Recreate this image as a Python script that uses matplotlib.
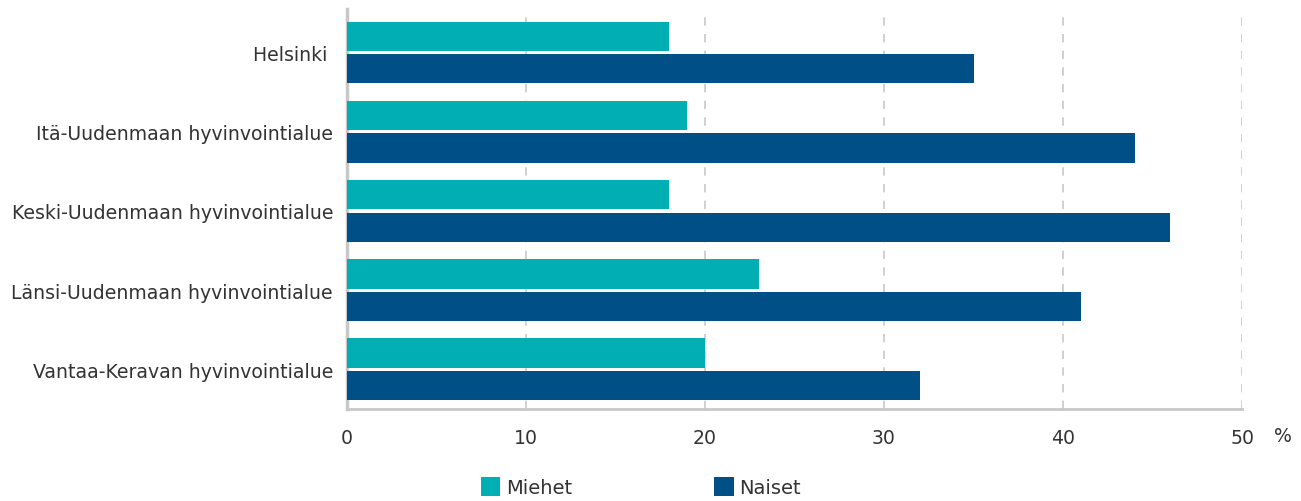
import numpy as np
import matplotlib
matplotlib.use('Agg')
import matplotlib.pyplot as plt

plt.rcParams['font.family'] = ['DejaVu Sans']

alueet = ['Helsinki ', 'Itä-Uudenmaan hyvinvointialue', 'Keski-Uudenmaan hyvinvointialue',
          'Länsi-Uudenmaan hyvinvointialue', 'Vantaa-Keravan hyvinvointialue']
miehet = [18, 19, 18, 23, 20]
naiset = [35, 44, 46, 41, 32]
x_ticks = [0, 10, 20, 30, 40, 50]

c_miehet = '#00AEB3'
c_naiset = '#004F87'
txt = '#333333'

fig = plt.figure(figsize=(13.01, 5.02), dpi=100)
ax = fig.add_axes([0.2667, 0.1833, 0.688, 0.797])

y = np.arange(len(alueet))
h = 0.37
ax.barh(y - h / 2 - 0.02, miehet, height=h, color=c_miehet, label='Miehet', zorder=3)
ax.barh(y + h / 2 + 0.02, naiset, height=h, color=c_naiset, label='Naiset', zorder=3)

ax.set_xlim(0, 50)
ax.set_ylim(4.5, -0.55)
ax.set_yticks(y)
ax.set_yticklabels(alueet, fontsize=13.6, color=txt)
ax.set_xticks(x_ticks)
ax.set_xticklabels([str(t) for t in x_ticks], fontsize=13.6, color=txt)
ax.tick_params(axis='x', length=0, pad=14)
ax.tick_params(axis='y', length=0, pad=10)

ax.grid(axis='x', color='#c8c8c8', linestyle=(0, (5, 5)), linewidth=1.2, zorder=0)
for s in ['top', 'right']:
    ax.spines[s].set_visible(False)
ax.spines['left'].set_color('#c8c8c8')
ax.spines['left'].set_linewidth(2.5)
ax.spines['bottom'].set_color('#c8c8c8')
ax.spines['bottom'].set_linewidth(2)

ax.text(1.046, -0.067, '%', transform=ax.transAxes, fontsize=13.6, color=txt,
        ha='center', va='center')

ax.legend(loc='center left', bbox_to_anchor=(0.130, -0.195), ncol=2, frameon=False,
          fontsize=14, handlelength=1.0, handleheight=1.1, handletextpad=0.3,
          columnspacing=7.3, labelcolor=txt)

fig.savefig('out.png', dpi=100)
